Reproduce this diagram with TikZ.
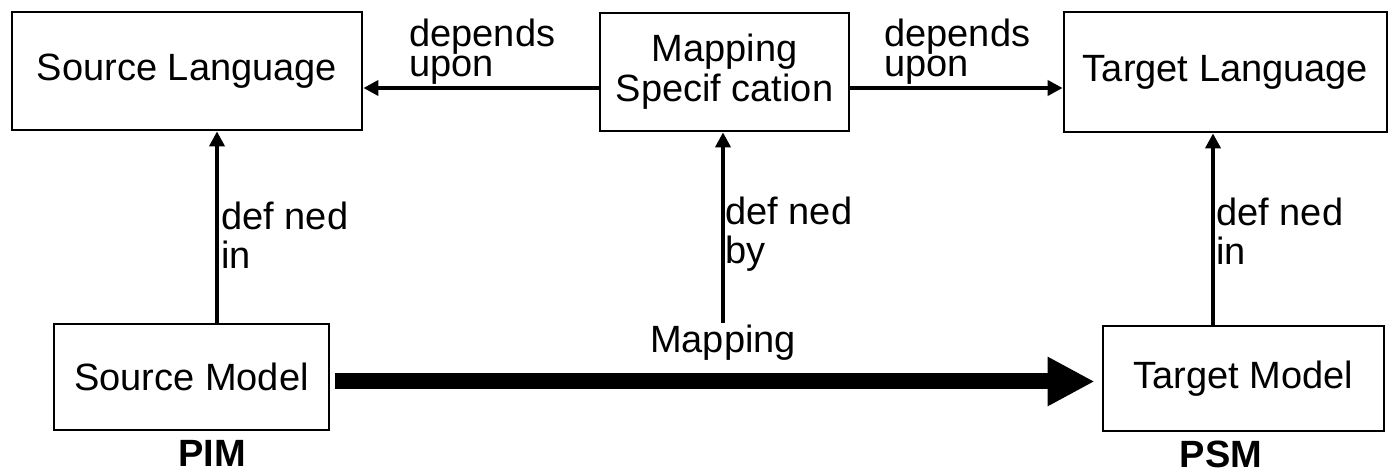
\documentclass[tikz,border=0pt]{standalone}
\usepackage{fontspec}
\setmainfont{Liberation Sans}
\usepackage{tikz}
\usetikzlibrary{positioning}
\usetikzlibrary{arrows.meta}

\begin{document}
\begin{tikzpicture}[x=0.5pt,y=-0.5pt,
  box/.style={draw,line width=1.4pt,inner sep=0pt,font=\fontsize{19}{20}\selectfont,align=center},
  dep/.style={line width=2.4pt,-{Triangle[length=7.5pt,width=7.5pt]}},
  lbl/.style={inner sep=0pt,anchor=north west,align=left}]
\useasboundingbox (0,0) rectangle (1393,474);
% languages and mapping specification
\node[box,minimum width=175pt,minimum height=59pt] (srclang) at (187,71) {Source Language};
\node[box,minimum width=124.5pt,minimum height=59pt] (mapspec) at (724.5,72) {Mapping\\Specif cation};
\node[box,minimum width=161.5pt,minimum height=60pt] (tgtlang) at (1225.5,72) {Target Language};
% models
\node[box,minimum width=137.5pt,minimum height=53pt] (srcmodel) at (191.5,377) {Source Model};
\node[box,minimum width=140.5pt,minimum height=52.5pt] (tgtmodel) at (1243.5,378.5) {Target Model};
\node[inner sep=0pt,anchor=base,font=\fontsize{19}{20}\selectfont\bfseries] (pim) at (212,467) {PIM};
\node[inner sep=0pt,anchor=base,font=\fontsize{19}{20}\selectfont\bfseries] (psm) at (1221,468) {PSM};
\node[inner sep=0pt,anchor=north,font=\fontsize{19}{20}\selectfont] (maplbl) at (723,325) {Mapping};
% helper coordinates for the connectors
\coordinate (hl) at (0,88);
\coordinate (hm) at (0,381.5);
\coordinate (v1) at (217,0);
\coordinate (v2) at (723,0);
\coordinate (v3) at (1213,0);
\draw[dep] (mapspec.west |- hl) -- (srclang.east |- hl);
\draw[dep] (mapspec.east |- hl) -- (tgtlang.west |- hl);
\draw[dep] (srcmodel.north -| v1) -- (srclang.south -| v1);
\draw[dep,shorten <=1pt] (maplbl.north -| v2) -- (mapspec.south -| v2);
\draw[dep] (tgtmodel.north -| v3) -- (tgtlang.south -| v3);
\draw[line width=8pt,shorten <=2.5pt,shorten >=3.5pt,-{Triangle[length=23.5pt,width=23pt]}] (srcmodel.east |- hm) -- (tgtmodel.west |- hm);
% connector labels
\node[lbl,font=\fontsize{19}{15}\selectfont] (dep1) at (409,19) {depends\\upon};
\node[lbl,font=\fontsize{19}{15}\selectfont] (dep2) at (884,19) {depends\\upon};
\node[lbl,font=\fontsize{19}{19.5}\selectfont] (def1) at (221,202) {def ned\\in};
\node[lbl,font=\fontsize{19}{19.5}\selectfont] (def2) at (725,197) {def ned\\by};
\node[lbl,font=\fontsize{19}{19.5}\selectfont] (def3) at (1216,198) {def ned\\in};
\end{tikzpicture}
\end{document}
